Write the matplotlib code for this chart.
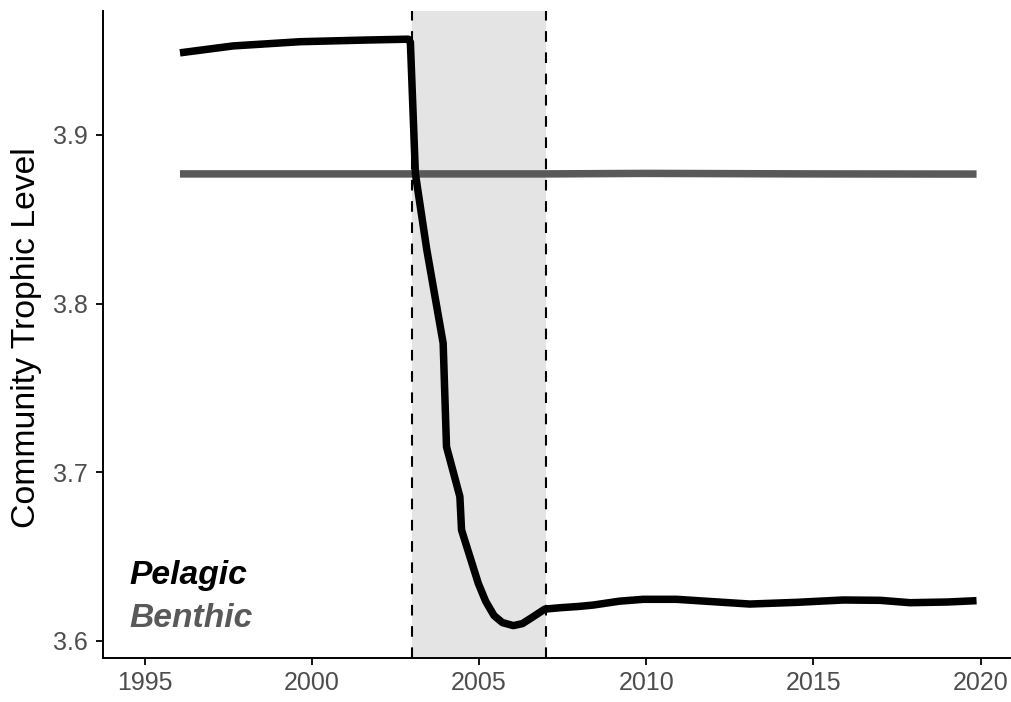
import numpy as np
import matplotlib
matplotlib.use('Agg')
import matplotlib.pyplot as plt

plt.rcParams['font.family'] = ['Liberation Sans', 'DejaVu Sans']

# Pelagic community trophic level
pelagic_year = [1996.06, 1997.65, 1999.65, 2001.64, 2002.89, 2002.95, 2003.1, 2003.44,
                2003.93, 2004.03, 2004.43, 2004.48, 2004.98, 2005.2, 2005.45, 2005.7, 2006.03,
                2006.3, 2006.6, 2006.97, 2007.42, 2008.0, 2008.42, 2009.2, 2009.91,
                2010.91, 2012.0, 2013.1, 2014.5, 2015.89, 2017.0, 2017.89, 2019.0, 2019.88]
pelagic_tl = [3.9487, 3.9528, 3.9553, 3.9563, 3.9568, 3.9550, 3.8770, 3.8320,
              3.7765, 3.7151, 3.6855, 3.6657, 3.6341, 3.6235, 3.6150, 3.6108, 3.6090,
              3.6102, 3.6140, 3.6188, 3.6196, 3.6204, 3.6212, 3.6235, 3.6246,
              3.6246, 3.6232, 3.6218, 3.6228, 3.6242, 3.6240, 3.6226, 3.6230, 3.6238]

# Benthic community trophic level
benthic_year = [1996.06, 2003.0, 2007.0, 2010.0, 2015.0, 2019.88]
benthic_tl = [3.8769, 3.8769, 3.8769, 3.8772, 3.8769, 3.8768]

# regime shift window
shift_start = 2003
shift_end = 2007

x_ticks = [1995, 2000, 2005, 2010, 2015, 2020]
y_ticks = [3.6, 3.7, 3.8, 3.9]

fig = plt.figure(figsize=(10.11, 7.02), dpi=100)
ax = fig.add_axes([0.1016, 0.0622, 0.8974, 0.9221])

ax.axvspan(shift_start, shift_end, color='#e4e4e4', lw=0, zorder=0)
for xv in (shift_start, shift_end):
    ax.axvline(xv, color='black', lw=1.5, linestyle=(0, (5.1, 5.1)), zorder=1)

ax.plot(benthic_year, benthic_tl, color='#595959', lw=5.4, solid_capstyle='butt', zorder=2)
ax.plot(pelagic_year, pelagic_tl, color='black', lw=5.4, solid_capstyle='butt',
        solid_joinstyle='round', zorder=3)

ax.text(1994.55, 3.6335, 'Pelagic', fontsize=24.2, fontweight='bold', fontstyle='italic',
        color='black', ha='left', va='baseline')
ax.text(1994.55, 3.6083, 'Benthic', fontsize=24.2, fontweight='bold', fontstyle='italic',
        color='#595959', ha='left', va='baseline')

ax.set_xlim(1993.75, 2020.88)
ax.set_ylim(3.5896, 3.9735)
ax.set_xticks(x_ticks)
ax.set_yticks(y_ticks)
ax.set_yticklabels([f'{v:.1f}' for v in y_ticks])

for side in ('top', 'right'):
    ax.spines[side].set_visible(False)
for side in ('left', 'bottom'):
    ax.spines[side].set_linewidth(1.4)
    ax.spines[side].set_color('black')

ax.tick_params(axis='both', direction='out', length=5, width=1.3, color='black',
               labelsize=18, labelcolor='#4d4d4d')
ax.tick_params(axis='x', pad=3.8)
ax.tick_params(axis='y', pad=5.5)

ax.set_ylabel('Community Trophic Level', fontsize=24.3, color='black')
ax.yaxis.set_label_coords(-0.0669, 0.496)

fig.savefig('out.png', dpi=100)
